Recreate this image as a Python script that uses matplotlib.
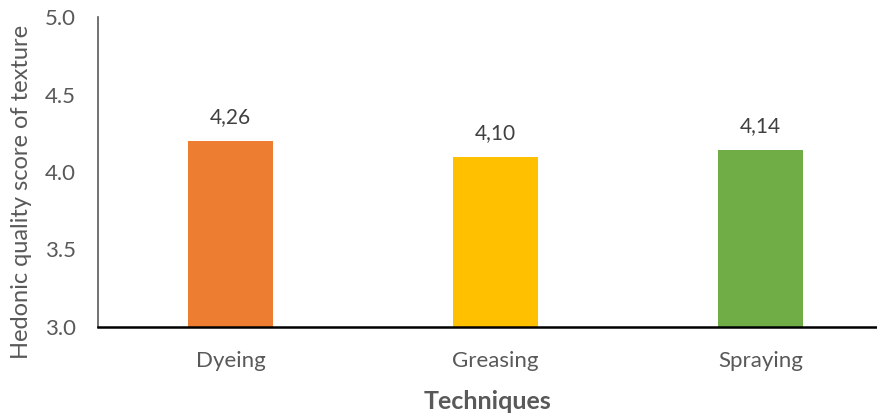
import matplotlib.pyplot as plt

# data
techniques = ["Dyeing", "Greasing", "Spraying"]
bar_heights = [4.20, 4.10, 4.14]
bar_labels = ["4,26", "4,10", "4,14"]
colors = ["#ED7D31", "#FFC000", "#70AD47"]
yticks = [3.0, 3.5, 4.0, 4.5, 5.0]

grey = "#595959"
plt.rcParams["font.family"] = ["Lato", "DejaVu Sans"]

fig = plt.figure(figsize=(8.78, 4.17), dpi=100)
ax = fig.add_axes([0.1116, 0.216, 0.8884, 0.743])

x = range(len(techniques))
bars = ax.bar(x, bar_heights, width=0.32, color=colors, zorder=2)

# value labels above the bars
for b, lab in zip(bars, bar_labels):
    ax.annotate(lab, (b.get_x() + b.get_width() / 2, b.get_height()),
                xytext=(0, 10), textcoords="offset points",
                ha="center", va="bottom", fontsize=15, color="#404040")

ax.set_ylim(3.0, 5.0)
ax.set_xlim(-0.5, 2.443)
ax.set_yticks(yticks)
ax.set_yticklabels([f"{t:.1f}" for t in yticks])
ax.set_xticks(list(x))
ax.set_xticklabels(techniques)
ax.tick_params(axis="both", length=0, labelsize=16, colors=grey)
ax.tick_params(axis="x", pad=17)
ax.tick_params(axis="y", pad=16)

for s in ["top", "right"]:
    ax.spines[s].set_visible(False)
ax.spines["left"].set_color(grey)
ax.spines["left"].set_linewidth(1.2)
ax.spines["bottom"].set_color("black")
ax.spines["bottom"].set_linewidth(1.8)

ax.set_xlabel("Techniques", fontsize=18, fontweight="bold", color=grey, labelpad=14)
ax.set_ylabel("Hedonic quality score of texture", fontsize=17, color=grey)
ax.yaxis.set_label_coords(-0.085, 0.435)

plt.savefig("out.png", dpi=100)
